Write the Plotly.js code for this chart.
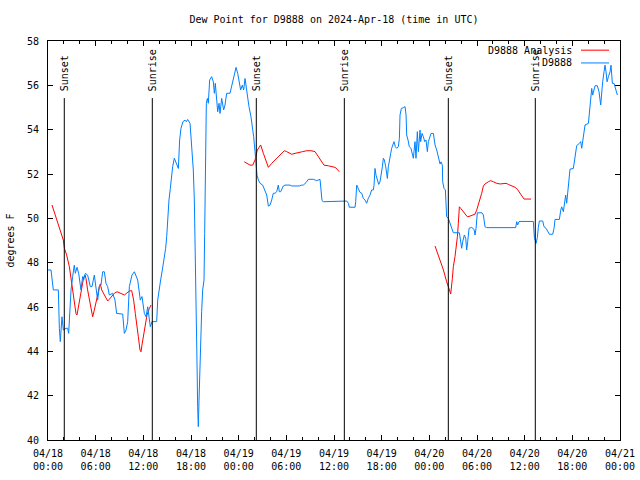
<!DOCTYPE html>
<html>
<head>
<meta charset="utf-8">
<script src="https://cdn.plot.ly/plotly-3.0.1.min.js"></script>
<style>html,body{margin:0;padding:0;background:#fff;}#chart{width:640px;height:480px;}</style>
</head>
<body>
<div id="chart"></div>
<script>
// Hours since 2024-04-18 00:00 UTC
var stationHours = [0.0,0.38,0.67,1.30,1.43,1.55,1.76,1.93,2.27,2.48,2.60,2.69,2.90,3.10,3.31,3.44,3.65,3.86,4.15,4.36,4.49,4.70,4.99,5.33,5.54,5.83,6.13,6.25,6.46,6.67,6.88,7.09,7.30,7.51,7.72,8.14,8.43,8.64,9.40,9.61,9.82,10.03,10.24,10.57,10.87,11.29,11.62,11.83,12.13,12.34,12.55,12.76,12.88,13.09,13.68,13.81,13.97,14.18,14.39,14.60,14.81,14.94,15.06,15.23,15.40,15.57,15.69,15.90,16.20,16.41,16.57,16.74,16.99,17.25,17.41,17.58,17.88,18.09,18.29,18.42,18.50,18.59,18.76,18.84,18.92,19.01,19.18,19.34,19.47,19.64,19.72,19.81,19.93,20.06,20.18,20.35,20.60,20.81,20.94,21.06,21.23,21.36,21.53,21.65,21.86,22.11,22.28,22.49,22.91,23.12,23.29,23.54,23.67,23.88,24.04,24.25,24.46,24.63,24.80,25.01,25.30,25.55,25.72,25.89,26.06,26.31,26.48,26.69,27.02,27.32,27.53,27.74,27.95,28.16,28.36,28.57,28.79,28.99,29.12,29.29,29.41,29.62,29.83,30.46,30.67,31.09,31.64,31.93,32.14,32.48,32.77,33.40,33.82,34.24,34.37,34.49,34.66,35.29,35.71,36.34,36.76,37.18,37.60,37.81,37.93,38.65,38.73,38.86,39.07,39.27,39.49,39.69,39.90,40.11,40.32,40.53,40.74,40.95,41.04,41.16,41.29,41.46,41.63,41.79,41.96,42.09,42.21,42.34,42.51,42.72,42.84,42.97,43.14,43.26,43.39,43.55,43.72,43.89,44.10,44.23,44.31,44.48,44.73,44.94,45.07,45.15,45.32,45.48,45.69,45.86,45.99,46.07,46.20,46.32,46.49,46.62,46.74,46.83,46.91,47.08,47.25,47.42,47.58,47.75,47.88,48.00,48.21,48.51,48.72,48.93,49.05,49.22,49.35,49.47,49.64,49.68,49.85,50.02,50.10,50.18,50.39,50.60,50.81,51.02,51.78,51.95,52.07,52.20,52.41,52.58,52.70,52.83,53.00,53.33,53.63,53.75,53.88,54.04,54.63,54.80,55.01,55.22,56.06,56.69,57.32,57.74,58.58,58.87,59.00,59.12,59.29,59.42,61.09,61.22,61.43,61.60,61.72,61.85,62.27,62.44,62.69,62.98,63.11,63.53,63.70,63.82,64.37,64.54,64.66,64.87,65.00,65.16,65.29,65.42,65.58,65.71,66.13,66.26,66.42,66.55,66.88,67.05,67.18,67.30,67.47,67.60,68.02,68.14,68.31,68.44,68.56,68.69,68.86,69.15,69.36,69.57,69.70,69.82,69.99,70.12,70.24,70.37,70.54,70.75,70.87,71.04,71.25,71.50,71.67];
var stationDewPoint = [47.67,47.67,46.77,46.77,45.04,44.44,45.56,44.96,45.04,45.04,44.81,45.41,46.77,47.37,47.89,47.52,47.79,47.52,46.77,47.37,47.22,47.52,47.44,46.92,46.92,47.44,46.47,46.31,46.92,46.99,47.59,47.59,47.07,46.92,46.54,46.62,46.31,45.71,45.68,44.81,44.96,45.34,46.92,47.44,47.59,47.22,46.31,46.47,45.71,45.56,46.01,45.34,45.11,45.34,45.34,46.31,46.77,47.22,47.67,48.12,48.65,49.17,50.15,50.83,51.35,51.95,52.33,52.71,52.48,52.25,53.53,54.06,54.36,54.43,54.36,54.46,54.28,53.38,52.18,50.83,48.57,45.79,43.38,41.50,40.60,41.80,44.66,45.79,46.77,47.22,49.32,53.38,55.19,55.41,55.19,56.24,56.39,56.16,55.64,56.09,55.49,54.81,55.19,54.73,55.41,54.89,55.11,55.64,55.64,55.94,56.24,56.54,56.81,56.54,56.16,55.79,56.01,55.79,56.31,55.71,55.04,54.58,54.21,53.68,53.01,51.95,51.73,51.58,51.50,51.28,51.05,50.55,50.60,50.83,51.13,51.13,51.20,51.50,51.20,51.20,51.28,51.46,51.50,51.50,51.46,51.46,51.46,51.50,51.50,51.61,51.76,51.76,51.70,51.76,51.28,50.80,50.75,50.75,50.78,50.78,50.75,50.78,50.78,50.68,50.50,50.50,50.75,51.50,51.28,51.17,51.13,50.90,50.83,50.68,50.90,51.05,51.28,51.28,51.50,52.25,51.95,51.73,51.53,51.65,51.95,52.33,52.71,52.63,52.33,51.80,52.33,52.71,52.93,53.16,53.31,53.46,53.23,53.16,53.23,53.61,54.66,54.96,54.99,55.04,54.66,53.76,53.53,53.23,53.16,52.93,52.71,53.01,53.46,52.71,53.91,53.01,53.68,53.98,53.46,53.83,53.68,53.46,53.53,53.01,53.46,53.61,53.83,53.83,53.31,53.08,52.86,52.63,52.45,52.55,52.40,51.65,51.35,51.28,50.68,50.07,50.00,49.77,49.55,49.35,49.35,48.87,48.65,48.95,49.25,49.10,48.57,48.95,49.55,49.59,49.50,49.25,49.55,50.25,50.25,50.15,49.62,49.58,49.58,49.59,49.58,49.58,49.58,49.58,49.85,49.70,49.85,49.86,49.86,49.14,48.87,49.14,49.59,49.88,49.88,49.62,49.55,49.40,49.28,49.28,49.55,49.95,49.95,50.37,50.52,50.30,50.75,51.05,50.68,51.28,51.88,52.22,52.25,52.63,52.93,53.28,53.38,53.46,53.16,53.43,53.91,54.21,54.28,54.74,55.56,55.86,55.56,55.79,55.98,55.98,55.71,55.11,55.71,56.16,56.61,56.91,56.61,56.16,56.39,56.61,56.91,56.09,56.09,55.79,55.56];

var analysisHours = [0.50,1.01,1.51,1.93,2.06,2.35,2.69,2.90,3.10,3.31,3.52,3.65,3.82,4.07,4.28,4.49,4.66,4.78,4.99,5.20,5.41,5.62,5.83,6.04,6.25,6.46,6.59,6.76,6.97,7.18,7.51,7.72,8.14,8.35,8.69,8.98,9.32,9.61,9.90,10.24,10.53,10.78,10.99,11.16,11.37,11.58,11.71,11.83,12.04,12.25,12.46,12.76,12.97,
  18.0,
  24.71,25.22,25.43,25.76,26.06,26.35,26.77,27.11,27.44,27.74,28.16,28.79,29.41,29.75,30.04,30.38,30.67,31.09,31.51,32.06,32.56,33.11,33.61,34.03,34.45,34.74,35.29,35.83,36.13,36.42,36.67,
  42.0,
  48.72,49.01,49.26,49.56,49.77,49.97,50.18,50.39,50.52,50.69,50.90,51.02,51.23,51.36,51.53,51.65,51.78,51.95,52.20,52.49,52.79,53.12,53.54,53.75,53.96,54.17,54.38,54.59,54.80,55.01,55.43,55.72,56.06,56.48,56.90,57.32,57.65,57.95,58.37,58.79,59.08,59.42,59.63,59.92,60.26,60.80];
var analysisDewPoint = [50.60,50.07,49.55,49.02,48.65,48.34,47.82,47.29,46.92,46.31,45.71,45.64,46.01,46.47,46.92,47.34,47.44,47.29,46.77,46.31,45.86,45.56,45.86,46.16,46.54,46.92,47.04,46.77,46.62,46.47,46.27,46.35,46.54,46.62,46.69,46.64,46.57,46.54,46.62,46.72,46.74,46.31,45.71,45.11,44.66,44.06,43.98,44.29,44.81,45.19,45.64,45.94,46.09,
  null,
  52.55,52.45,52.40,52.40,52.63,53.08,53.31,52.93,52.55,52.30,52.48,52.71,52.93,53.05,53.01,52.93,52.89,52.93,52.98,53.01,53.05,53.05,53.01,52.78,52.55,52.40,52.37,52.33,52.30,52.21,52.10,
  null,
  48.75,48.42,48.19,47.89,47.67,47.37,47.14,46.92,46.77,46.59,47.29,47.82,48.27,48.65,49.17,49.77,50.52,50.45,50.34,50.22,50.07,50.10,50.15,50.19,50.37,50.60,50.86,51.13,51.46,51.55,51.65,51.70,51.65,51.58,51.55,51.58,51.58,51.53,51.47,51.40,51.31,51.13,50.98,50.87,50.87,50.87];

var sunEventHours = [2.05, 13.13, 26.22, 37.30, 50.39, 61.34];
var sunEventLabels = ['Sunset','Sunrise','Sunset','Sunrise','Sunset','Sunrise'];

var axisStart = '2024-04-18 00:00';
var axisEnd = '2024-04-21 00:00';
var majorTickHours = 6;
var minorTickHours = 2;
var tickLabelFormat = '%m/%d<br>%H:%M';

var seriesNames = ['D9888 Analysis', 'D9888'];
var seriesColors = ['#ff0000', '#0080ff'];

var FONT = 'DejaVu Sans Mono';
var BASE_MS = Date.UTC(2024, 3, 18, 0, 0, 0);
function hourToDate(h) {
  if (h === null) return null;
  var d = new Date(BASE_MS + Math.round(h * 3600000));
  return d.toISOString().replace('T', ' ').replace('Z', '');
}

var traces = [
  {x: analysisHours.map(hourToDate), y: analysisDewPoint, type: 'scatter', mode: 'lines', name: seriesNames[0],
   connectgaps: false, line: {color: seriesColors[0], width: 1}, hoverinfo: 'skip'},
  {x: stationHours.map(hourToDate), y: stationDewPoint, type: 'scatter', mode: 'lines', name: seriesNames[1],
   line: {color: seriesColors[1], width: 1}, hoverinfo: 'skip'}
];

var shapes = [];
var annotations = [];
sunEventHours.forEach(function (h, i) {
  var xd = hourToDate(h);
  shapes.push({type: 'line', xref: 'x', yref: 'paper', x0: xd, x1: xd, y0: 0, y1: 0.857,
               line: {color: '#000', width: 1}});
  annotations.push({xref: 'x', yref: 'paper', x: xd, y: 0.872, text: sunEventLabels[i],
                    textangle: -90, showarrow: false, xanchor: 'center', yanchor: 'bottom',
                    font: {family: FONT, size: 10, color: '#000'}, borderpad: 0});
});

// legend (text left, line sample right, as in gnuplot)
var legendY = [0.977, 0.945];
seriesNames.forEach(function (n, i) {
  annotations.push({xref: 'paper', yref: 'paper', x: 0.9185, y: legendY[i], text: n,
                    showarrow: false, xanchor: 'right', yanchor: 'middle', borderpad: 0,
                    font: {family: FONT, size: 10, color: '#000'}});
  shapes.push({type: 'line', xref: 'paper', yref: 'paper', x0: 0.9318, x1: 0.9808,
               y0: legendY[i], y1: legendY[i], line: {color: seriesColors[i], width: 1}});
});

var layout = {
  width: 640, height: 480,
  margin: {l: 48, r: 20, t: 41, b: 40, pad: 0},
  paper_bgcolor: '#fff', plot_bgcolor: '#fff',
  showlegend: false,
  font: {family: FONT, size: 10, color: '#000'},
  title: {text: 'Dew Point for D9888 on 2024-Apr-18 (time in UTC)', x: 0.5, xref: 'paper',
          y: 0.96, yref: 'container', yanchor: 'middle',
          font: {family: FONT, size: 10, color: '#000'}},
  xaxis: {type: 'date', range: [axisStart, axisEnd], tickmode: 'linear', tick0: axisStart,
          dtick: majorTickHours * 3600000, tickformat: tickLabelFormat,
          showline: true, linecolor: '#000', linewidth: 1, mirror: 'ticks',
          ticks: 'inside', ticklen: 5, tickcolor: '#000', tickwidth: 1,
          showgrid: false, zeroline: false, ticklabelstandoff: 4,
          tickfont: {family: FONT, size: 10, color: '#000'},
          minor: {tick0: axisStart, dtick: minorTickHours * 3600000, ticks: 'inside', ticklen: 3,
                  tickcolor: '#000', tickwidth: 1, showgrid: false}},
  yaxis: {range: [40, 58], tick0: 40, dtick: 2,
          showline: true, linecolor: '#000', linewidth: 1, mirror: 'ticks',
          ticks: 'inside', ticklen: 5, tickcolor: '#000', tickwidth: 1,
          showgrid: false, zeroline: false, ticklabelstandoff: 6,
          tickfont: {family: FONT, size: 10, color: '#000'},
          title: {text: 'degrees F', standoff: 10, font: {family: FONT, size: 10, color: '#000'}}},
  shapes: shapes,
  annotations: annotations
};

Plotly.newPlot('chart', traces, layout, {staticPlot: true, displayModeBar: false});
</script>
</body>
</html>
